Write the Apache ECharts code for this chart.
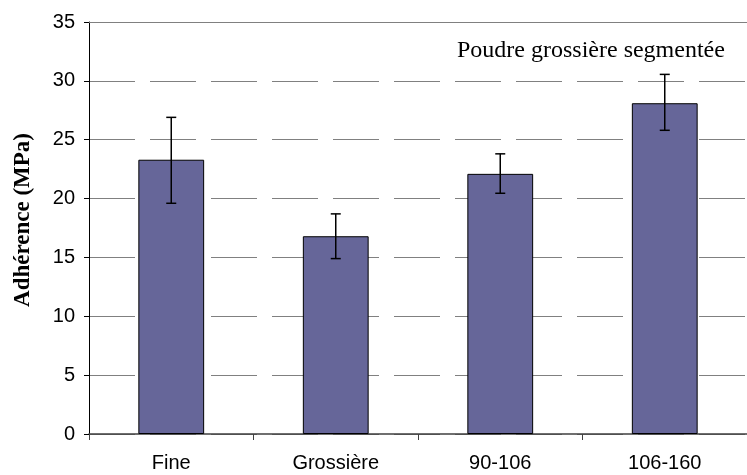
<!DOCTYPE html>
<html>
<head>
<meta charset="utf-8">
<script src="https://cdn.jsdelivr.net/npm/echarts@6/dist/echarts.min.js"></script>
<style>
html,body{margin:0;padding:0;background:#fff;}
#chart{width:747px;height:475px;}
</style>
</head>
<body>
<div id="chart"></div>
<script>
const categories = ['Fine', 'Grossière', '90-106', '106-160'];
const means = [23.3, 16.8, 22.1, 28.1];
const errLow = [19.6, 14.9, 20.45, 25.8];
const errHigh = [26.9, 18.7, 23.8, 30.55];
const yTicks = [0, 5, 10, 15, 20, 25, 30, 35];
const yTitle = 'Adhérence (MPa)';
const annotation = 'Poudre grossière segmentée';

const chart = echarts.init(document.getElementById('chart'), null, {renderer: 'canvas'});
const errData = categories.map((c, i) => [i, errLow[i], errHigh[i]]);

chart.setOption({
  backgroundColor: '#ffffff',
  animation: false,
  grid: {left: 89, top: 22, bottom: 41, width: 669, containLabel: false},
  xAxis: [{
    type: 'category',
    data: categories,
    axisLine: {lineStyle: {color: '#404040', width: 1.5}},
    axisTick: {show: true, length: 6, lineStyle: {color: '#404040'}},
    axisLabel: {color: '#000', fontFamily: 'Liberation Sans', fontSize: 20, margin: 19},
    splitLine: {show: false}
  }, {
    type: 'category',
    data: categories,
    position: 'top',
    axisLine: {show: true, lineStyle: {color: '#808080', width: 1}},
    axisTick: {show: false},
    axisLabel: {show: false}
  }],
  yAxis: {
    type: 'value',
    min: yTicks[0],
    max: yTicks[yTicks.length - 1],
    interval: 5,
    axisLine: {show: true, lineStyle: {color: '#000', width: 1}},
    axisTick: {show: true, length: 5, lineStyle: {color: '#000'}},
    axisLabel: {color: '#000', fontFamily: 'Liberation Sans', fontSize: 20, margin: 14},
    splitLine: {show: true, lineStyle: {color: '#808080', width: 1, type: [46, 15]}}
  },
  graphic: [{
    type: 'text',
    left: 457, top: 39,
    style: {text: annotation, font: '24px "Liberation Serif"', fill: '#000'}
  }, {
    type: 'text',
    x: 23, y: 220,
    rotation: Math.PI / 2,
    style: {text: yTitle, font: 'bold 23px "Liberation Serif"', fill: '#000', align: 'center', verticalAlign: 'middle'}
  }],
  series: [{
    type: 'bar',
    data: means,
    barWidth: '40%',
    itemStyle: {color: '#666699', borderColor: '#000', borderWidth: 1}
  }, {
    type: 'custom',
    data: errData,
    z: 10,
    renderItem: function (params, api) {
      const idx = api.value(0);
      const lo = api.coord([idx, api.value(1)]);
      const hi = api.coord([idx, api.value(2)]);
      const hw = 5;
      const st = {stroke: '#000', lineWidth: 1.5};
      return {
        type: 'group',
        children: [
          {type: 'line', shape: {x1: hi[0], y1: hi[1], x2: lo[0], y2: lo[1]}, style: st},
          {type: 'line', shape: {x1: hi[0] - hw, y1: hi[1], x2: hi[0] + hw, y2: hi[1]}, style: st},
          {type: 'line', shape: {x1: lo[0] - hw, y1: lo[1], x2: lo[0] + hw, y2: lo[1]}, style: st}
        ]
      };
    },
    encode: {x: 0, y: [1, 2]}
  }]
});
</script>
</body>
</html>
